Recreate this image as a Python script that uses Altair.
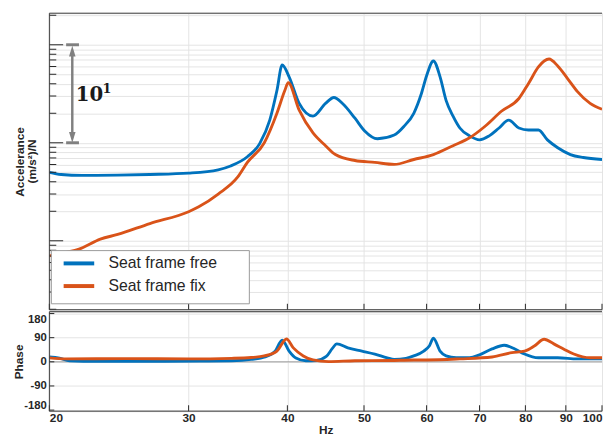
import altair as alt
import pandas as pd

SERIES = ["Seat frame free", "Seat frame fix"]
COLORS = ["#0072BD", "#D95319"]

# ---- magnitude (accelerance) ----
free_hz = [20.0, 20.7, 22.0, 24.4, 26.8, 30.0, 32.7, 33.9, 35.6, 36.9, 38.0, 38.8, 39.4, 40.2, 41.4,
           43.1, 44.7, 45.8, 47.0, 48.7, 50.1, 52.0, 54.6, 56.2, 57.8, 59.1, 60.0, 61.2, 62.4, 63.5,
           64.8, 66.1, 68.0, 70.0, 72.0, 74.1, 76.2, 78.5, 80.7, 83.1, 85.3, 87.9, 91.2, 94.7, 100.0]
free_mag = [0.50, 0.475, 0.465, 0.468, 0.475, 0.49, 0.53, 0.58, 0.72, 0.98, 1.70, 3.41, 6.22, 4.71, 2.52,
            1.87, 2.52, 2.90, 2.50, 1.78, 1.32, 1.10, 1.20, 1.48, 2.0, 3.18, 4.83, 6.83, 4.71, 2.71,
            1.87, 1.415, 1.176, 1.072, 1.176, 1.415, 1.70, 1.415, 1.35, 1.35, 1.07, 0.89, 0.758, 0.707, 0.675]

fix_hz = [20.0, 21.0, 21.8, 23.2, 24.4, 26.8, 30.0, 30.9, 32.7, 34.6, 35.6, 37.4, 38.8, 39.7, 40.1,
          41.4, 43.1, 44.7, 46.0, 48.7, 51.6, 54.6, 57.8, 61.2, 64.8, 68.0, 71.2, 74.6, 78.5, 80.7,
          83.1, 84.5, 85.7, 87.9, 90.5, 93.1, 96.6, 100.0]
fix_mag = [0.070, 0.076, 0.082, 0.104, 0.116, 0.150, 0.198, 0.222, 0.30, 0.445, 0.63, 1.0, 2.0, 3.41, 4.10,
           2.15, 1.26, 0.933, 0.758, 0.659, 0.63, 0.601, 0.675, 0.758, 0.933, 1.123, 1.482, 2.097, 2.83, 4.01,
           5.94, 6.83, 7.15, 6.08, 4.50, 3.33, 2.52, 2.20]

# ---- phase ----
free_ph_hz = [20.0, 20.6, 21.2, 23.0, 27.0, 31.0, 34.0, 36.0, 37.5, 38.6, 39.4, 40.2, 41.0, 42.2, 43.5,
              44.8, 45.6, 46.2, 47.7, 49.7, 51.6, 53.5, 54.6, 56.5, 57.8, 59.5, 60.5, 61.2, 62.4, 63.5,
              65.4, 68.0, 70.0, 72.6, 75.2, 77.6, 79.8, 83.1, 87.9, 93.1, 100.0]
free_ph = [18, 14, 4, 2, 2, 3, 4, 9, 18, 40, 81, 40, 14, 4, 5,
           20, 50, 67, 52, 40, 29, 15, 9, 13, 22, 40, 60, 88, 40, 22,
           15, 15, 26, 48, 62, 48, 29, 15, 15, 11, 11]

fix_ph_hz = [20.0, 21.0, 25.0, 30.0, 34.0, 36.0, 37.4, 38.8, 39.9, 40.7, 41.9, 43.1, 45.1, 48.7, 54.0,
             57.8, 60.0, 66.1, 72.6, 76.9, 79.8, 82.1, 84.5, 86.9, 89.4, 92.1, 96.6, 100.0]
fix_ph = [15, 11, 12, 11, 13, 16, 22, 40, 85, 52, 22, 7, 1, 4, 5,
          7, 7, 11, 18, 34, 40, 59, 84, 67, 48, 29, 15, 15]

# ---- ticks / grid / labels ----
x_ticks = [20, 30, 40, 50, 60, 70, 80, 90, 100]
mag_grid = [0.02, 0.03, 0.04, 0.05, 0.06, 0.07, 0.08, 0.09,
            0.1, 0.2, 0.3, 0.4, 0.5, 0.6, 0.7, 0.8, 0.9,
            1, 2, 3, 4, 5, 6, 7, 8, 9, 10, 20]
mag_major = [0.1, 1, 10]
mag_minor = [v for v in mag_grid if v not in mag_major]
phase_ticks = [-180, -90, 0, 90, 180]
y_title = "Accelerance"
y_unit = "(m/s²)/N"

# ---- "10^1" decade annotation (data units) ----
ann_hz = 21.38
ann_cap_hz = [21.0, 21.8]
ann_lo, ann_hi = 1.0, 10.0
ann_head_lo, ann_head_hi = 1.136, 8.6
ann_text_hz, ann_text_val = 21.6, 3.1
ann_base, ann_exp = "10", "1"

FONT = "Liberation Sans"
TXT = "#262626"
GRID = "#e4e4e4"
FRAME = "#3c3c3c"
W, H1, H2 = 561, 301, 101

mag_df = pd.concat([
    pd.DataFrame({"hz": free_hz, "value": free_mag, "series": SERIES[0]}),
    pd.DataFrame({"hz": fix_hz, "value": fix_mag, "series": SERIES[1]}),
])
ph_df = pd.concat([
    pd.DataFrame({"hz": free_ph_hz, "deg": free_ph, "series": SERIES[0]}),
    pd.DataFrame({"hz": fix_ph_hz, "deg": fix_ph, "series": SERIES[1]}),
])

xscale = alt.Scale(type="log", domain=[20, 100], nice=False)
yscale = alt.Scale(type="log", domain=[0.0198, 21.0], nice=False)
pscale = alt.Scale(domain=[-184, 187], nice=False, zero=False)
cscale = alt.Scale(domain=SERIES, range=COLORS)

top_xaxis = alt.Axis(values=x_ticks, labels=False, ticks=False, domain=False, grid=True,
                     gridColor=GRID, title=None)
top_yaxis = alt.Axis(values=mag_grid, labels=False, ticks=False, domain=False, grid=True,
                     gridColor=GRID, title=y_title, titleAngle=270, titleBaseline="bottom",
                     titleAlign="center", titleX=-23, titleY=H1 / 2, titleFont=FONT, titleFontSize=12,
                     titleFontWeight="bold", titleColor=TXT)
bot_xaxis = alt.Axis(values=x_ticks, format="d", labelFlush=True, labelFont=FONT, labelFontSize=12,
                     labelFontWeight="bold", labelColor=TXT, labelPadding=2, ticks=False,
                     domain=False, grid=True, gridColor=GRID, title="Hz", titleFont=FONT,
                     titleFontSize=12, titleFontWeight="bold", titleColor=TXT, titlePadding=1)
bot_yaxis = alt.Axis(values=phase_ticks, labelExpr="'' + datum.value", labelFlush=8, labelFont=FONT,
                     labelFontSize=11.5, labelFontWeight="bold", labelColor=TXT, labelPadding=3, ticks=False,
                     domain=False, grid=True, gridColor=GRID, title="Phase",
                     titleX=-24, titleY=H2 / 2, titleFont=FONT, titleFontSize=12,
                     titleFontWeight="bold", titleColor=TXT)


def tx(field="hz:Q"):
    return alt.X(field, scale=xscale, axis=top_xaxis)


def ty(field="value:Q"):
    return alt.Y(field, scale=yscale, axis=top_yaxis)


def bx(field="hz:Q"):
    return alt.X(field, scale=xscale, axis=bot_xaxis)


def by(field="deg:Q"):
    return alt.Y(field, scale=pscale, axis=bot_yaxis)


one = alt.Data(values=[{}])


def frame_rules(h, sides):
    out = []
    for s in sides:
        if s == "top":
            enc = dict(x=alt.value(0), x2=alt.value(W), y=alt.value(0))
        elif s == "bottom":
            enc = dict(x=alt.value(0), x2=alt.value(W), y=alt.value(h))
        else:
            enc = dict(x=alt.value(0), y=alt.value(0), y2=alt.value(h))
        out.append(alt.Chart(one).mark_rule(color=FRAME, strokeWidth=1).encode(**enc))
    return out


# ================= top panel =================
top_lines = alt.Chart(mag_df).mark_line(strokeWidth=2.9, clip=True, interpolate="monotone").encode(
    x=tx(), y=ty(),
    color=alt.Color("series:N", scale=cscale, sort=SERIES,
                    legend=alt.Legend(orient="none", legendX=22, legendY=246, title=None,
                                      symbolType="M-4.7,0L4.7,0", symbolSize=43.6, symbolStrokeWidth=4,
                                      labelFont=FONT, labelFontSize=16, labelColor=TXT,
                                      labelOffset=22, rowPadding=7, padding=0)),
)

minor_df = pd.DataFrame({"value": mag_minor})
major_df = pd.DataFrame({"value": mag_major})
xt_df = pd.DataFrame({"hz": x_ticks})

minor_ticks = alt.Chart(minor_df).mark_rule(color=TXT, strokeWidth=1).encode(
    y=ty(), x=alt.value(0), x2=alt.value(7))
major_ticks = alt.Chart(major_df).mark_rule(color=TXT, strokeWidth=1).encode(
    y=ty(), x=alt.value(0), x2=alt.value(14))
top_xticks = alt.Chart(xt_df).mark_rule(color=TXT, strokeWidth=1).encode(
    x=tx(), y=alt.value(H1 - 6), y2=alt.value(H1))

ann_color = "#808080"
shaft = alt.Chart(pd.DataFrame({"hz": [ann_hz], "value": [ann_head_lo], "value2": [ann_head_hi]})).mark_rule(
    color=ann_color, strokeWidth=2.5).encode(x=tx(), y=ty(), y2="value2:Q")
caps = alt.Chart(pd.DataFrame({"hz": [ann_cap_hz[0]] * 2, "hz2": [ann_cap_hz[1]] * 2,
                               "value": [ann_lo, ann_hi]})).mark_rule(
    color=ann_color, strokeWidth=3).encode(x=tx(), x2="hz2:Q", y=ty())
head_up = alt.Chart(pd.DataFrame({"hz": [ann_hz], "value": [ann_head_hi]})).mark_point(
    shape="M0,-1L0.6,1L-0.6,1Z", size=121, filled=True, color=ann_color, opacity=1).encode(x=tx(), y=ty())
head_dn = alt.Chart(pd.DataFrame({"hz": [ann_hz], "value": [ann_head_lo]})).mark_point(
    shape="M0,1L0.6,-1L-0.6,-1Z", size=121, filled=True, color=ann_color, opacity=1).encode(x=tx(), y=ty())
ann_df = pd.DataFrame({"hz": [ann_text_hz], "value": [ann_text_val], "base": [ann_base], "exp": [ann_exp]})
ann_text = alt.Chart(ann_df).mark_text(
    font="DejaVu Serif", fontSize=20, fontWeight="bold", align="left", baseline="middle", color="#1a1a1a").encode(
    x=tx(), y=ty(), text="base:N")
ann_sup = alt.Chart(ann_df).mark_text(
    font="DejaVu Serif", fontSize=13, fontWeight="bold", align="left", baseline="middle", color="#1a1a1a",
    dx=27, dy=-6).encode(x=tx(), y=ty(), text="exp:N")

unit_text = alt.Chart(one).mark_text(
    angle=270, align="center", baseline="bottom", font=FONT, fontSize=12, fontWeight="bold", color=TXT).encode(
    x=alt.value(-11), y=alt.value(H1 / 2), text=alt.value(y_unit))

legend_frame = alt.Chart(one).mark_rect(
    fill="white", stroke="#9a9a9a", strokeWidth=1).encode(
    x=alt.value(2), x2=alt.value(203), y=alt.value(241), y2=alt.value(295))

top = alt.layer(top_lines, minor_ticks, major_ticks, top_xticks, shaft, caps, head_up, head_dn,
                ann_text, ann_sup, unit_text, legend_frame,
                *frame_rules(H1, ["top", "left", "bottom"])).properties(width=W, height=H1)

# ================= bottom panel =================
zero_line = alt.Chart(pd.DataFrame({"deg": [0]})).mark_rule(color="#9a9a9a", strokeWidth=1).encode(y=by())
ph_lines = alt.Chart(ph_df).mark_line(strokeWidth=2.9, clip=True, interpolate="monotone").encode(
    x=bx(), y=by(),
    color=alt.Color("series:N", scale=cscale, sort=SERIES, legend=None),
)
pt_df = pd.DataFrame({"deg": phase_ticks})
ph_yticks = alt.Chart(pt_df).mark_rule(color=TXT, strokeWidth=1).encode(
    y=by(), x=alt.value(0), x2=alt.value(5))
ph_xticks = alt.Chart(xt_df).mark_rule(color=TXT, strokeWidth=1).encode(
    x=bx(), y=alt.value(H2 - 6), y2=alt.value(H2))

bottom = alt.layer(zero_line, ph_lines, ph_yticks, ph_xticks,
                   *frame_rules(H2, ["top", "left", "bottom"])).properties(width=W, height=H2)

chart = alt.vconcat(top, bottom, spacing=0).resolve_legend(color="independent").properties(
    padding={"left": 4, "top": 1, "right": 0, "bottom": 0}
).configure_view(stroke=None).configure(background="white")

chart.save("out.html", embed_options={"renderer": "svg", "actions": False})
